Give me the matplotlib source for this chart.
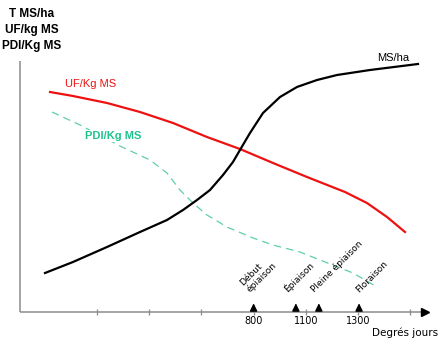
import matplotlib.pyplot as plt

plt.rcParams['font.family'] = ['Liberation Sans', 'DejaVu Sans']

# x in tick units (one unit = one tick step), y in % of axis height
ms_x = [-0.996, -0.460, 0.192, 0.824, 1.341, 1.648, 1.916, 2.165, 2.414, 2.605, 2.739, 2.931, 3.180,
        3.506, 3.831, 4.215, 4.598, 5.230, 6.149]
ms_y = [15.6, 20.0, 26.0, 32.0, 36.8, 40.8, 44.8, 48.8, 54.8, 60.0, 64.8, 71.6, 79.6,
        86.0, 90.0, 92.8, 94.8, 96.8, 99.2]

uf_x = [-0.900, -0.460, 0.192, 0.824, 1.456, 2.107, 2.739, 3.372, 4.023, 4.751, 5.172, 5.556, 5.900]
uf_y = [88.0, 86.4, 83.6, 80.0, 75.6, 70.0, 65.2, 59.6, 54.0, 48.0, 43.6, 38.0, 32.0]

pdi_x = [-0.862, -0.326, 0.479, 1.015, 1.341, 1.590, 1.839, 2.107, 2.490, 2.989, 3.372, 3.889,
         4.272, 4.904, 5.364]
pdi_y = [80.0, 74.8, 66.0, 60.8, 55.6, 48.8, 43.6, 38.8, 34.0, 29.6, 26.8, 24.0,
         20.8, 15.6, 10.0]

tick_pos = [0, 1, 2, 3, 4, 5, 6]
tick_lab = {3: '800', 4: '1100', 5: '1300'}

stage_pos = [3.0, 3.81, 4.25, 5.02]
stage_lab = ['Début\népiaison', 'Épiaison', 'Pleine épiaison', 'Floraison']
stage_off = [-0.04, -0.12, -0.06, 0.02]

fig = plt.figure(figsize=(4.47, 3.46), dpi=100)
ax = fig.add_axes([0, 0, 1, 1])
ax.set_xlim(-1.858, 6.705)
ax.set_ylim(-13.6, 124.8)
ax.axis('off')

grey = '#8c8c8c'
# axes
ax.plot([-1.475, -1.475], [0, 100.4], color=grey, lw=1.1, solid_capstyle='butt')
ax.plot([-1.475, 6.2], [0, 0], color=grey, lw=1.1, solid_capstyle='butt')
ax.plot([6.28], [0], marker='>', color='black', ms=6, mec='black')
ax.plot(tick_pos, [0] * len(tick_pos), ls='none', marker='|', color=grey, ms=5, mew=0.9)
for k, s in tick_lab.items():
    ax.text(k, -1.8, s, ha='center', va='top', fontsize=7, family='DejaVu Sans')
ax.text(5.9, -8.4, 'Degrés jours', ha='center', va='center', fontsize=7.5, family='DejaVu Sans')

# stage arrows
for p, s, o in zip(stage_pos, stage_lab, stage_off):
    ax.annotate('', xy=(p, 4.6), xytext=(p, 0),
                arrowprops=dict(arrowstyle='-|>,head_length=0.45,head_width=0.22', color='black', lw=1.0))
    ax.text(p + o, 7.0, s, rotation=45, rotation_mode='anchor', ha='left', va='bottom',
            fontsize=6.5, family='DejaVu Sans', linespacing=1.0)

# curves
ax.plot(pdi_x, pdi_y, color='#5fcfa8', lw=0.9, ls=(0, (6, 4)))
ax.plot(uf_x, uf_y, color='#ee1111', lw=1.6, solid_joinstyle='round')
ax.plot(ms_x, ms_y, color='black', lw=1.6, solid_joinstyle='round')

ax.text(-0.115, 91.2, 'UF/Kg MS', color='#ee1111', ha='center', va='center', fontsize=8)
ax.text(0.307, 70.4, 'PDI/Kg MS', color='#1fc28e', ha='center', va='center', fontsize=8,
        weight='bold', bbox=dict(facecolor='white', edgecolor='none', pad=1))
ax.text(5.670, 101.6, 'MS/ha', color='black', ha='center', va='center', fontsize=8)

fig.text(32 / 447, 1 - 30 / 346, 'T MS/ha\nUF/kg MS\nPDI/Kg MS', ha='center', va='center',
         fontsize=8.5, weight='bold', linespacing=1.45)

fig.savefig('out.png', dpi=100)
